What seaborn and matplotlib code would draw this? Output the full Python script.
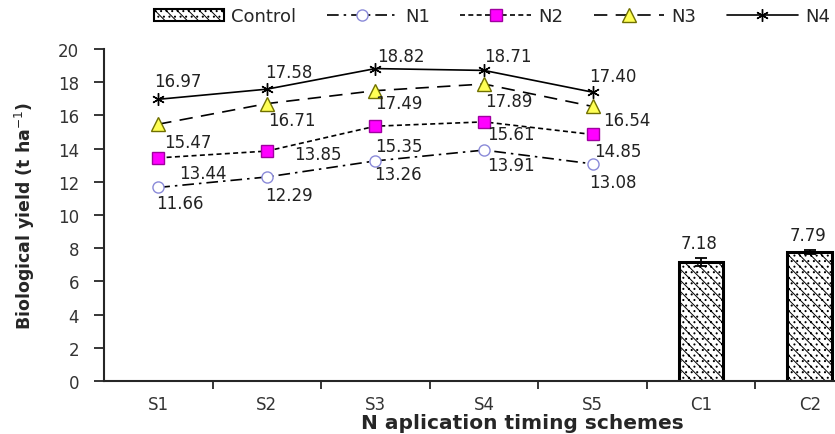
import numpy as np
import pandas as pd
import matplotlib
matplotlib.use("Agg")
import matplotlib.pyplot as plt
import seaborn as sns
from matplotlib.patches import Patch
from matplotlib.lines import Line2D

# categories on the x axis
categories = ["S1", "S2", "S3", "S4", "S5", "C1", "C2"]
schemes = ["S1", "S2", "S3", "S4", "S5"]
controls = ["C1", "C2"]

# biological yield (t/ha)
n1 = [11.66, 12.29, 13.26, 13.91, 13.08]
n2 = [13.44, 13.85, 15.35, 15.61, 14.85]
n3 = [15.47, 16.71, 17.49, 17.89, 16.54]
n4 = [16.97, 17.58, 18.82, 18.71, 17.40]
control = [7.18, 7.79]
control_err = [0.25, 0.12]

sns.set_style("ticks")
plt.rcParams["font.family"] = ["DejaVu Sans"]
plt.rcParams["hatch.linewidth"] = 0.7

fig = plt.figure(figsize=(8.35, 4.35), dpi=100)
ax = fig.add_axes([104 / 835, 53 / 435, 760 / 835, 332 / 435])

# control bars
bars = pd.DataFrame({"cat": controls, "val": control})
sns.barplot(data=bars, x="cat", y="val", order=categories, width=0.41,
            color="white", edgecolor="black", linewidth=2.2, hatch="\\\\\\...",
            errorbar=None, ax=ax)
ax.errorbar([categories.index(c) for c in controls], control, yerr=control_err,
            fmt="none", ecolor="black", elinewidth=1.3, capsize=4, capthick=1.3)

# N treatment lines
pos = [categories.index(s) for s in schemes]
styles = {
    "N1": dict(vals=n1, ls=(0, (7, 3, 1.5, 3)), marker="o", mfc="white", mec="#8a8ad8", ms=8),
    "N2": dict(vals=n2, ls=(0, (3, 2)), marker="s", mfc="#ff00ff", mec="#a000a0", ms=9),
    "N3": dict(vals=n3, ls=(0, (8, 5)), marker="^", mfc="#ffff55", mec="#707000", ms=10),
    "N4": dict(vals=n4, ls="-", marker=(6, 2, 0), mfc="black", mec="black", ms=9),
}
handles = [Patch(facecolor="white", edgecolor="black", hatch="\\\\\\...", linewidth=1.5, label="Control")]
for name, st in styles.items():
    df = pd.DataFrame({"x": pos, "y": st["vals"]})
    sns.lineplot(data=df, x="x", y="y", ax=ax, color="black", linewidth=1.2,
                 linestyle=st["ls"], marker=st["marker"], markersize=st["ms"],
                 markerfacecolor=st["mfc"], markeredgecolor=st["mec"],
                 markeredgewidth=1.0, sort=False)
    handles.append(Line2D([], [], color="black", linewidth=1.2, linestyle=st["ls"],
                          marker=st["marker"], markersize=st["ms"],
                          markerfacecolor=st["mfc"], markeredgecolor=st["mec"], label=name))

# value labels (pixel offsets from the point)
offsets = {
    "N1": [(22, -16), (22, -18), (23, -13), (27, -15), (20, -18)],
    "N2": [(45, -15), (51, -3), (23, -20), (27, -12), (25, -17)],
    "N3": [(30, -18), (25, -16), (23, -12), (25, -17), (34, -14)],
    "N4": [(20, 18), (22, 17), (25, 13), (24, 14), (20, 16)],
}
for name, st in styles.items():
    for x, v, (dx, dy) in zip(pos, st["vals"], offsets[name]):
        ax.annotate(f"{v:.2f}", (x, v), xytext=(dx, dy), textcoords="offset pixels",
                    ha="center", va="center", fontsize=12, color="#222222")
for c, v, e in zip(controls, control, control_err):
    ax.annotate(f"{v:.2f}", (categories.index(c), v + e), xytext=(-2, 15),
                textcoords="offset pixels", ha="center", va="center",
                fontsize=12, color="#222222")

ax.set_xlim(-0.5, len(categories) - 0.5)
ax.set_ylim(0, 20)
ax.set_yticks(np.arange(0, 21, 2))
ax.set_xticks(np.arange(0.5, len(categories) - 0.5, 1))
ax.set_xticklabels([])
ax.set_xticks(np.arange(len(categories)), minor=True)
ax.set_xticklabels(categories, minor=True)
ax.tick_params(axis="x", which="major", length=6, width=1.3, direction="out")
ax.tick_params(axis="x", which="minor", length=0, pad=10, labelsize=12, labelcolor="#333333")
ax.tick_params(axis="y", length=7, width=1.3, direction="out", pad=11, labelsize=12,
               labelcolor="#333333")
sns.despine(ax=ax)
for s in ["left", "bottom"]:
    ax.spines[s].set_linewidth(1.5)

ax.set_ylabel("Biological yield (t ha$^{-1}$)", fontsize=12.5, fontweight="bold")
ax.yaxis.set_label_coords(-0.104, 0.5)
ax.yaxis.label.set_va("center")
ax.set_xlabel("N aplication timing schemes", fontsize=14.5, fontweight="bold")
ax.xaxis.set_label_coords(0.55, -0.155)
ax.xaxis.label.set_va("bottom")

fig.legend(handles=handles, loc="center", bbox_to_anchor=(0.589, 0.96), ncol=5,
           frameon=False, fontsize=13, handlelength=3.9, handleheight=0.6,
           columnspacing=1.7, handletextpad=0.4)

fig.savefig("out.png", dpi=100)
